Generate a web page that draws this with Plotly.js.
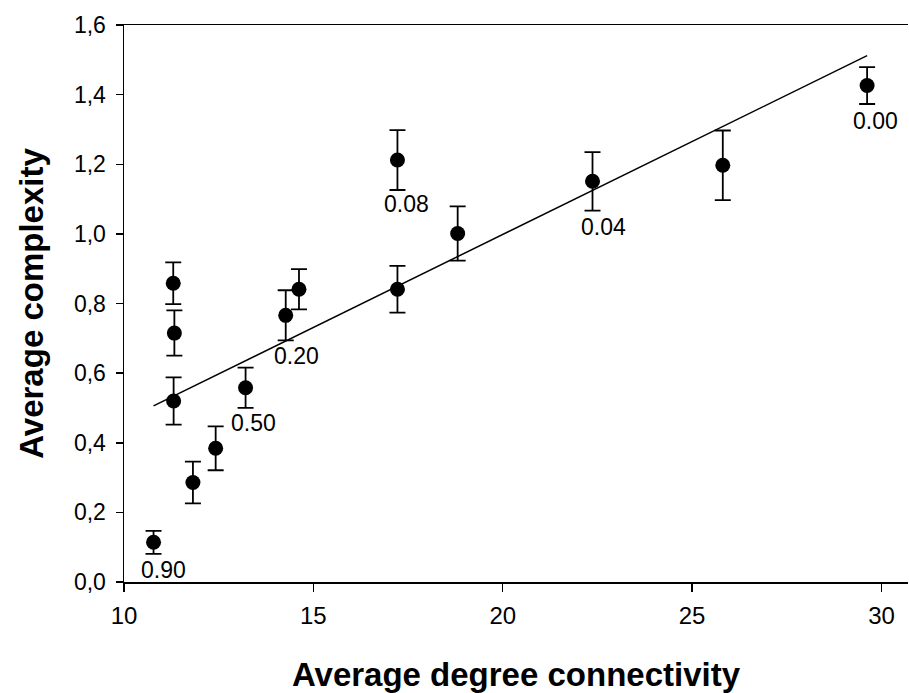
<!DOCTYPE html>
<html>
<head>
<meta charset="utf-8">
<script src="https://cdn.plot.ly/plotly-3.0.1.min.js"></script>
<style>html,body{margin:0;padding:0;background:#fff;}#chart{width:909px;height:693px;}</style>
</head>
<body>
<div id="chart"></div>
<script>
// Data
const connectivity = [10.78, 11.30, 11.33, 11.31, 11.82, 12.42, 13.21, 14.27, 14.62, 17.22, 17.22, 18.81, 22.37, 25.81, 29.62];
const complexity   = [0.114, 0.858, 0.715, 0.520, 0.286, 0.384, 0.558, 0.766, 0.841, 1.212, 0.841, 1.001, 1.151, 1.197, 1.426];
const complexityErr = [0.033, 0.060, 0.065, 0.068, 0.060, 0.063, 0.058, 0.072, 0.058, 0.086, 0.067, 0.078, 0.084, 0.100, 0.053];

// Regression line endpoints
const fitX = [10.78, 29.62];
const fitY = [0.506, 1.512];

// Point labels
const labelText = ['0.90', '0.50', '0.20', '0.08', '0.04', '0.00'];
const labelX = [11.04, 13.42, 14.55, 17.45, 22.65, 29.85];
const labelY = [0.034, 0.457, 0.650, 1.086, 1.021, 1.323];

const xTicks = [10, 15, 20, 25, 30];
const yTicks = [0, 0.2, 0.4, 0.6, 0.8, 1.0, 1.2, 1.4, 1.6];

const font = 'Liberation Sans, Arial, sans-serif';

const traces = [
  {
    x: fitX, y: fitY, mode: 'lines', type: 'scatter',
    line: {color: '#000', width: 1.5}, hoverinfo: 'skip', showlegend: false
  },
  {
    x: connectivity, y: complexity, mode: 'markers', type: 'scatter',
    marker: {color: '#000', size: 15},
    error_y: {type: 'data', array: complexityErr, visible: true, color: '#000', thickness: 1.8, width: 8},
    showlegend: false
  }
];

const annotations = labelText.map((t, i) => ({
  x: labelX[i], y: labelY[i], xref: 'x', yref: 'y', text: t, showarrow: false,
  font: {family: font, size: 23, color: '#000'}, xanchor: 'center', yanchor: 'middle'
}));

const layout = {
  width: 909, height: 693,
  margin: {l: 123.5, r: 1, t: 25, b: 111},
  paper_bgcolor: '#fff', plot_bgcolor: '#fff',
  separators: ',.',
  showlegend: false,
  font: {family: font, color: '#000'},
  xaxis: {
    range: [10, 30.7], tickvals: xTicks, ticktext: xTicks.map(String),
    ticks: 'outside', ticklen: 8, tickwidth: 1.5, tickcolor: '#000',
    showline: true, linecolor: '#000', linewidth: 1.5, mirror: true,
    showgrid: false, zeroline: false, ticklabelstandoff: 4,
    tickfont: {family: font, size: 24, color: '#000'},
    title: {text: 'Average degree connectivity', font: {family: font, size: 33, color: '#000', weight: 'bold'}, standoff: 38}
  },
  yaxis: {
    range: [0, 1.6], tickvals: yTicks, tickformat: '.1f',
    ticks: 'outside', ticklen: 7, tickwidth: 1.5, tickcolor: '#000',
    showline: true, linecolor: '#000', linewidth: 1.5,
    showgrid: false, zeroline: false, ticklabelstandoff: 5,
    tickfont: {family: font, size: 23, color: '#000'},
    title: {text: 'Average complexity', font: {family: font, size: 33, color: '#000', weight: 'bold'}, standoff: 20}
  },
  annotations: annotations
};

Plotly.newPlot('chart', traces, layout, {displayModeBar: false, staticPlot: true});
</script>
</body>
</html>
